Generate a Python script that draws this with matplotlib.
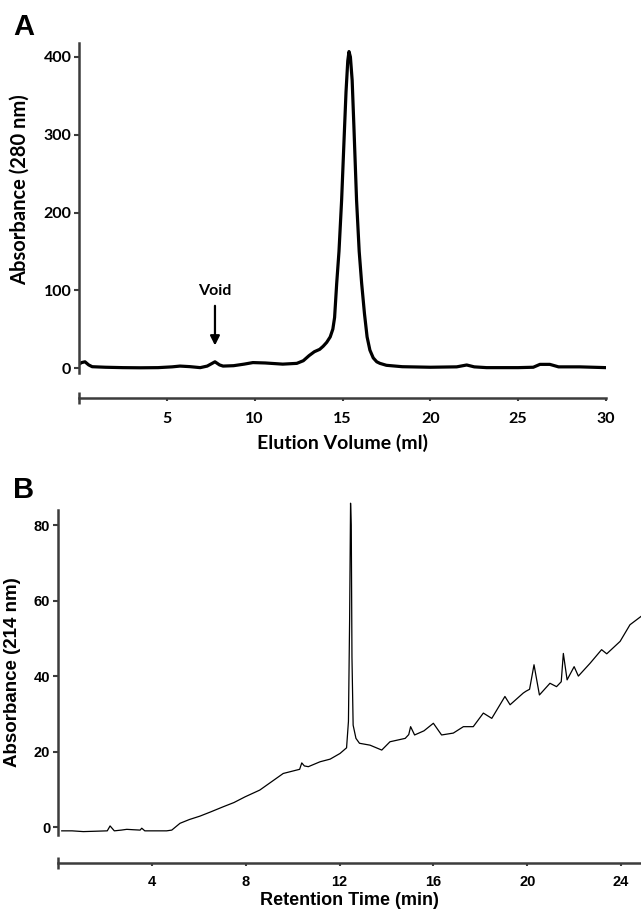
import matplotlib
matplotlib.use("Agg")
import matplotlib.pyplot as plt
from matplotlib.ticker import FixedLocator

# ---------------- Panel A data (size-exclusion chromatogram) ----------------
a_volume = [0.0, 0.15, 0.34, 0.55, 0.75, 1.5, 2.5, 3.5, 4.5, 5.3, 5.75, 6.3, 6.9,
            7.3, 7.74, 8.0, 8.2, 8.8, 9.4, 9.9, 10.6, 11.6, 12.4, 12.77, 13.1,
            13.4, 13.7, 13.9, 14.1, 14.3, 14.45, 14.55, 14.67, 14.8, 14.95, 15.1,
            15.2, 15.3, 15.37, 15.45, 15.55, 15.65, 15.8, 15.95, 16.09, 16.25,
            16.4, 16.56, 16.75, 16.95, 17.13, 17.5, 18.4, 20.0, 21.5, 22.07,
            22.5, 23.2, 25.0, 25.86, 26.24, 26.8, 27.3, 28.5, 30.0]
a_absorb = [5, 7, 8, 4, 1.7, 1.0, 0.5, 0.3, 0.5, 1.5, 2.5, 1.8, 0.5,
            2.5, 8, 4, 2.5, 3, 5, 7, 6.5, 5, 6, 9.4, 16,
            21, 24, 28, 33, 40, 50, 65, 109, 150, 216, 300,
            355, 395, 407, 400, 370, 310, 216, 150, 109, 70,
            40, 23, 13, 8, 6, 3.5, 1.7, 1.0, 1.5, 3.9,
            1.5, 0.5, 0.5, 1.0, 4.7, 4.7, 1.5, 1.5, 0.5]
a_yticks = [0, 100, 200, 300, 400]
a_xticks = [5, 10, 15, 20, 25, 30]

# ---------------- Panel B data (RP-HPLC chromatogram) ----------------
b_time = [0.16, 0.6, 1.08, 1.6, 2.1, 2.22, 2.4, 2.7, 2.93, 3.2, 3.5, 3.57, 3.7,
          4.2, 4.63, 4.85, 5.2, 5.6, 6.05, 6.5, 7.05, 7.5, 7.97, 8.6, 9.1, 9.6,
          10.17, 10.3, 10.39, 10.5, 10.67, 11.17, 11.6, 12.02, 12.3, 12.38,
          12.43, 12.47, 12.5, 12.53, 12.58, 12.7, 12.85, 13.3, 13.8, 14.15,
          14.8, 14.95, 15.03, 15.2, 15.6, 16.0, 16.35, 16.85, 17.28, 17.7,
          18.13, 18.49, 19.05, 19.27, 19.83, 19.95, 20.1, 20.29, 20.52, 20.97,
          21.25, 21.45, 21.54, 21.7, 22.0, 22.18, 22.68, 23.17, 23.39, 23.96,
          24.38, 24.85]
b_absorb = [-1.0, -1.0, -1.2, -1.1, -1.0, 0.3, -1.0, -0.8, -0.6, -0.7, -0.8, -0.3, -1.0,
            -1.0, -1.0, -0.8, 1.0, 2.0, 2.9, 4.0, 5.4, 6.5, 8.0, 9.8, 12.0, 14.2,
            15.1, 15.3, 17.0, 16.2, 16.0, 17.3, 18.0, 19.5, 21.0, 28.0,
            55.0, 85.8, 80.0, 45.0, 27.0, 23.5, 22.2, 21.7, 20.4, 22.6,
            23.5, 24.5, 26.6, 24.4, 25.5, 27.5, 24.4, 24.9, 26.6, 26.6,
            30.2, 28.8, 34.6, 32.4, 35.5, 36.0, 36.5, 43.0, 35.0, 38.1,
            37.2, 38.5, 46.0, 39.0, 42.5, 40.0, 43.4, 47.0, 45.9, 49.2,
            53.6, 55.8]
b_yticks = [0, 20, 40, 60, 80]
b_xticks = [4, 8, 12, 16, 20, 24]

AX_COLOR = "#3c3c3c"
FONT_A = ["Lato", "DejaVu Sans"]
FONT_B = ["Liberation Sans", "DejaVu Sans"]

fig = plt.figure(figsize=(6.41, 9.14), dpi=100)
W, H = 641, 914


def axes_px(left, top, right, bottom):
    return fig.add_axes([left / W, 1 - bottom / H, (right - left) / W, (bottom - top) / H])


def style(ax, xlim, ylim, xticks, yticks, outward_px, font, tsize, xpad):
    ax.set_xlim(*xlim)
    ax.set_ylim(*ylim)
    for s in ["top", "right"]:
        ax.spines[s].set_visible(False)
    for s in ["left", "bottom"]:
        ax.spines[s].set_color(AX_COLOR)
        ax.spines[s].set_linewidth(1.8)
    ax.spines["bottom"].set_position(("outward", outward_px * 72 / 100))
    ax.set_yticks(yticks)
    ax.set_xticks(xticks)
    ax.xaxis.set_minor_locator(FixedLocator([0]))
    ax.tick_params(axis="y", direction="out", length=3.5, width=1.5, color=AX_COLOR, pad=2)
    ax.tick_params(axis="x", which="major", direction="out", length=2.5, width=1.5,
                   color=AX_COLOR, pad=xpad)
    ax.tick_params(axis="x", which="minor", direction="inout", length=8, width=1.8,
                   color=AX_COLOR)
    for lab in ax.get_xticklabels() + ax.get_yticklabels():
        lab.set_fontfamily(font)
        lab.set_fontweight("bold")
        lab.set_fontsize(tsize)


# ---------------- Panel A ----------------
axA = axes_px(79, 43, 606, 373)
axA.plot(a_volume, a_absorb, color="black", lw=2.3, solid_joinstyle="round")
style(axA, (0, 30), (-6.4, 418), a_xticks, a_yticks, 25, FONT_A, 11.5, 7.5)
axA.set_xlabel("Elution Volume (ml)", fontfamily=FONT_A, fontweight="bold",
               fontsize=14, labelpad=6)
axA.set_ylabel("Absorbance (280 nm)", fontfamily=FONT_A, fontweight="bold",
               fontsize=14.5, labelpad=10)
axA.yaxis.label.set_y(0.555)
axA.annotate("", xy=(7.74, 29), xytext=(7.74, 80),
             arrowprops=dict(arrowstyle="-|>", color="black", lw=1.6,
                             mutation_scale=14, shrinkA=0, shrinkB=0))
axA.text(7.74, 99, "Void", ha="center", va="center", fontfamily=FONT_A,
         fontweight="bold", fontsize=11.5)
fig.text(13 / W, 1 - 35 / H, "A", fontfamily=FONT_B, fontweight="bold",
         fontsize=21, ha="left", va="baseline")

# ---------------- Panel B ----------------
axB = axes_px(58, 510, 641, 835)
axB.plot(b_time, b_absorb, color="black", lw=0.9, clip_on=False)
style(axB, (0, 24.85), (-2.1, 84), b_xticks, b_yticks, 28, FONT_B, 10.5, 6)
axB.set_xlabel("Retention Time (min)", fontfamily=FONT_B, fontweight="bold",
               fontsize=13, labelpad=2)
axB.set_ylabel("Absorbance (214 nm)", fontfamily=FONT_B, fontweight="bold",
               fontsize=13.5, labelpad=9)
fig.text(13 / W, 1 - 498 / H, "B", fontfamily=FONT_B, fontweight="bold",
         fontsize=21, ha="left", va="baseline")

fig.savefig("out.png", dpi=100)
